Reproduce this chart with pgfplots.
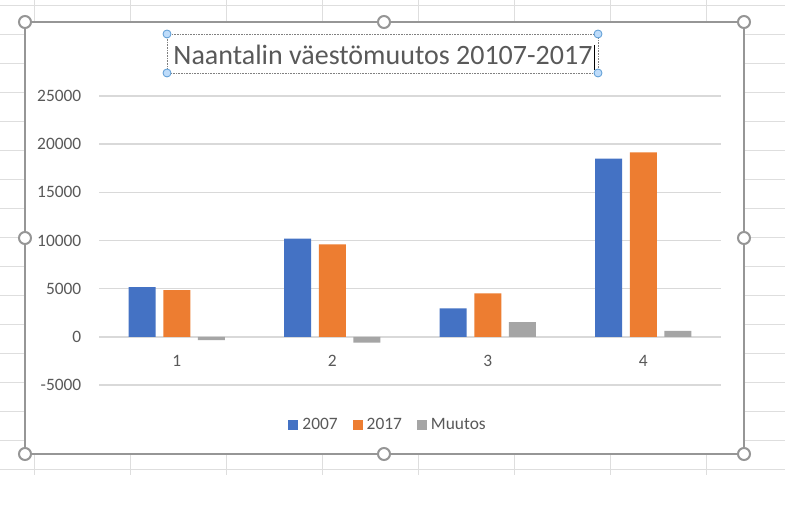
\documentclass[border=0pt]{standalone}
\usepackage{pgfplots}
\pgfplotsset{compat=1.18}
\usepackage{fontspec}
\setmainfont{Carlito}
\definecolor{xblue}{RGB}{68,114,196}
\definecolor{xorange}{RGB}{237,125,49}
\definecolor{xgray}{RGB}{165,165,165}
\definecolor{xtext}{RGB}{89,89,89}
\definecolor{xgrid}{RGB}{217,217,217}
\definecolor{sheet}{RGB}{222,222,222}
\definecolor{frame}{RGB}{150,150,150}
\definecolor{hblue}{RGB}{91,155,213}
\definecolor{hfill}{RGB}{190,220,250}
\begin{document}
\begin{tikzpicture}[x=1pt,y=1pt]
\useasboundingbox[fill=white] (0,0) rectangle (785,521);
% spreadsheet cell lines
\foreach \k in {0,...,7} {\draw[sheet,line width=1pt] (34+96*\k,521) -- (34+96*\k,46);}
\foreach \k in {0,...,16} {\draw[sheet,line width=1pt] (0,515-29*\k) -- (785,515-29*\k);}
% chart area
\fill[white] (25,67) rectangle (744,499);
\draw[frame,line width=1.5pt] (25,67) rectangle (744,499);
% title box
\draw[gray,densely dotted,line width=0.6pt] (167,487) rectangle (598,448);
\node[anchor=base,text=xtext,font=\fontsize{28}{33}\selectfont,inner sep=0pt] at (383,456) {Naantalin väestömuutos 20107-2017};
\draw[black,line width=0.8pt] (594,476) -- (594,451);

\begin{axis}[
  at={(99pt,136pt)}, anchor=south west,
  scale only axis, width=622pt, height=289pt,
  xmin=0.5, xmax=4.5, ymin=-5000, ymax=25000,
  ybar=7.7pt, bar width=27pt,
  axis line style={draw=none},
  major tick length=0pt,
  xtick={1,2,3,4}, xticklabels={1,2,3,4},
  ytick={-5000,0,5000,10000,15000,20000,25000},
  yticklabels={-5000,0,5000,10000,15000,20000,25000},
  scaled y ticks=false,
  ymajorgrids, grid style={xgrid,line width=1.5pt},
  tick label style={font=\fontsize{17.4}{21}\selectfont,text=xtext},
  xticklabel style={inner sep=0pt,anchor=center,yshift=24pt},
  yticklabel style={inner sep=0pt,anchor=east,xshift=-17.5pt},
  legend columns=3,
  legend style={at={(0.464,-0.138)},anchor=center,draw=none,fill=none,
    font=\fontsize{17.4}{21}\selectfont,text=xtext,inner sep=0pt,
    /tikz/every even column/.append style={column sep=12pt}},
  legend image code/.code={\path (-1pt,0pt) (12pt,0pt);\fill[#1] (0pt,-5pt) rectangle (10pt,5pt);},
  clip=false,
]
\addplot[fill=xblue,draw=none] coordinates {(1,5150) (2,10200) (3,2950) (4,18500)};
\addplot[fill=xorange,draw=none] coordinates {(1,4850) (2,9600) (3,4500) (4,19150)};
\addplot[fill=xgray,draw=none] coordinates {(1,-340) (2,-600) (3,1520) (4,620)};
\legend{2007,2017,Muutos}
\end{axis}

% selection handles
\foreach \p in {(25,499),(384,499),(744,499),(25,283),(744,283),(25,67),(384,67),(744,67)}
  {\draw[frame,fill=white,line width=2pt] \p circle (6);}
\foreach \p in {(167,487),(598,487),(167,448),(598,448)}
  {\draw[hblue,fill=hfill,line width=0.8pt] \p circle (4);}
\end{tikzpicture}
\end{document}
